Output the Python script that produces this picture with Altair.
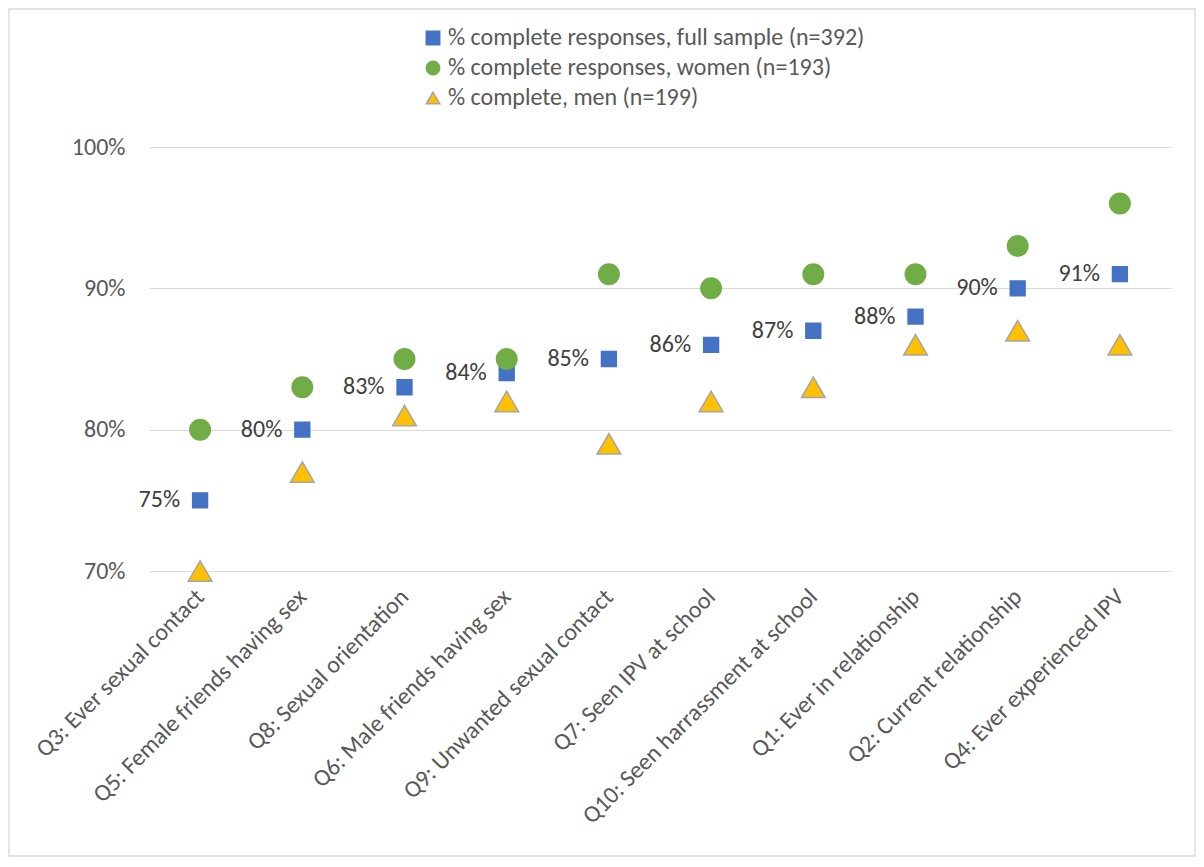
import altair as alt
import pandas as pd

questions = [
    "Q3: Ever sexual contact",
    "Q5: Female friends having sex",
    "Q8: Sexual orientation",
    "Q6: Male friends having sex",
    "Q9: Unwanted sexual contact",
    "Q7: Seen IPV at school",
    "Q10: Seen harrassment at school",
    "Q1: Ever in relationship",
    "Q2: Current relationship",
    "Q4: Ever experienced IPV",
]
full = [75, 80, 83, 84, 85, 86, 87, 88, 90, 91]
women = [80, 83, 85, 85, 91, 90, 91, 91, 93, 96]
men = [70, 77, 81, 82, 79, 82, 83, 86, 87, 86]
series = [
    "% complete responses, full sample (n=392)",
    "% complete responses, women (n=193)",
    "% complete, men (n=199)",
]
fill_colors = ["#4472C4", "#70AD47", "#FFC000"]
stroke_colors = ["#4472C4", "#70AD47", "#A5A5A5"]
shapes = ["square", "circle", "triangle-up"]

rows = []
for s, vals in zip(series, [full, women, men]):
    for q, v in zip(questions, vals):
        rows.append({"q": q, "series": s, "value": v / 100, "label": f"{v}%"})
df = pd.DataFrame(rows)

FONT = "Carlito, Lato, sans-serif"
FS = 24
W, H = 1022, 424
PL, PT, PR, PB = 141, 139, 25, 286

x_enc = alt.X("q:N", sort=questions, title=None,
              scale=alt.Scale(paddingInner=0, paddingOuter=0),
              axis=alt.Axis(labelAngle=-45, labelAlign="right", labelBaseline="middle",
                            labelPadding=22, ticks=False, domain=False, grid=False,
                            labelFontSize=FS, labelColor="#595959", labelFont=FONT,
                            labelLimit=500))
y_enc = alt.Y("value:Q", title=None,
              scale=alt.Scale(domain=[0.7, 1.0], nice=False),
              axis=alt.Axis(values=[0.7, 0.8, 0.9, 1.0], format=".0%", ticks=False,
                            domain=False, gridColor="#D9D9D9", gridWidth=1.2,
                            labelFontSize=FS, labelColor="#595959", labelFont=FONT,
                            labelPadding=24))

color_enc = alt.Color("series:N", scale=alt.Scale(domain=series, range=fill_colors),
                      legend=alt.Legend(title=None, orient="none", legendX=272, legendY=-121,
                                        direction="vertical", labelFontSize=FS,
                                        labelColor="#595959", labelFont=FONT,
                                        symbolSize=180, rowPadding=6, labelOffset=3,
                                        symbolStrokeWidth=1.5, labelLimit=700))
shape_enc = alt.Shape("series:N", scale=alt.Scale(domain=series, range=shapes))
stroke_enc = alt.Stroke("series:N", scale=alt.Scale(domain=series, range=stroke_colors))

base = alt.Chart(df)

layers = []
sizes = [220, 420, 560]
for s, sz in zip(series, sizes):
    layers.append(
        base.transform_filter(alt.datum.series == s)
        .mark_point(filled=True, opacity=1, size=sz, strokeWidth=1.5)
        .encode(x=x_enc, y=y_enc, fill=color_enc, shape=shape_enc, stroke=stroke_enc)
    )

labels = (
    base.transform_filter(alt.datum.series == series[0])
    .mark_text(align="right", baseline="middle", dx=-20, fontSize=FS, color="#404040", font=FONT)
    .encode(x=x_enc, y=y_enc, text="label:N")
)

border = alt.Chart(pd.DataFrame({"a": [0]})).mark_rect(
    filled=False, stroke="#D9D9D9", strokeWidth=1.3
).encode(
    x=alt.value(-PL + 1), x2=alt.value(W + PR - 1),
    y=alt.value(-PT + 1), y2=alt.value(H + PB - 1),
)

chart = alt.layer(border, *layers, labels).properties(
    width=W, height=H,
    background="white",
    autosize=alt.AutoSizeParams(type="none"),
    padding={"left": PL, "top": PT, "right": PR, "bottom": PB},
).configure_view(stroke="transparent")

chart.save("out.html", embed_options={"renderer": "svg", "actions": False})
